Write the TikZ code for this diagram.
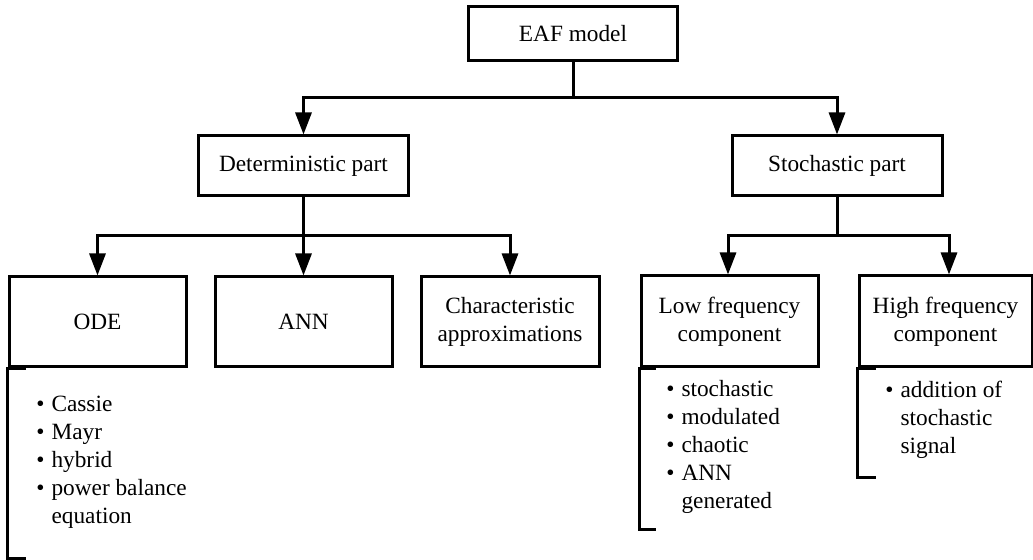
\documentclass[tikz,border=0pt]{standalone}
\usepackage{fontspec}
\setmainfont{Liberation Serif}
\usetikzlibrary{arrows.meta}
\begin{document}
\begin{tikzpicture}[x=0.5pt,y=-0.5pt,
 box/.style={draw,line width=1.5pt,inner sep=0pt,align=center,font=\fontsize{11.65}{14}\selectfont},
 conn/.style={line width=1.5pt,-{Triangle[width=8pt,length=11pt]}},
 plainline/.style={line width=1.5pt},
 brk/.style={line width=1.5pt},
 lst/.style={anchor=north west,inner sep=0pt,font=\fontsize{11.65}{14}\selectfont}]
\useasboundingbox (0,0) rectangle (1033,560);
% boxes
\node[box,minimum width=104.5pt,minimum height=27pt] (eaf) at (573,34) {EAF model};
\node[box,minimum width=105pt,minimum height=30pt] (det) at (303.5,166) {Deterministic part};
\node[box,minimum width=105pt,minimum height=30pt] (sto) at (837,166) {Stochastic part};
\node[box,minimum width=88.5pt,minimum height=45pt] (ode) at (97.5,322) {ODE};
\node[box,minimum width=88.5pt,minimum height=45pt] (ann) at (303.5,322) {ANN};
\node[box,minimum width=89pt,minimum height=45pt] (cha) at (510,322) {Characteristic\\approximations};
\node[box,minimum width=88.5pt,minimum height=45.5pt] (low) at (729.5,321.5) {Low frequency\\component};
\node[box,minimum width=86.5pt,minimum height=45.5pt] (high) at (945.5,321.5) {High frequency\\component};
% junction levels
\path (0,98) coordinate (h1) (0,236) coordinate (h2);
\coordinate (j1) at (eaf.south |- h1);
\coordinate (j2) at (det.south |- h2);
\coordinate (j3) at (sto.south |- h2);
% connectors
\draw[plainline] (eaf.south) -- (j1);
\draw[conn] (j1) -| (det.north);
\draw[conn] (j1) -| (sto.north);
\draw[plainline] (det.south) -- (j2);
\draw[conn] (j2) -| (ode.north);
\draw[conn] (j2) -| (ann.north);
\draw[conn] (j2) -| (cha.north);
\draw[plainline] (sto.south) -- (j3);
\draw[conn] (j3) -| ([xshift=-0.75pt]low.north);
\draw[conn] (j3) -| ([xshift=1.75pt]high.north);
% brackets
\draw[brk] ([xshift=9pt]ode.south west) -- (ode.south west) -- ++(0,190) -- ++(18,0);
\draw[brk] ([xshift=8pt]low.south west) -- (low.south west) -- ++(0,161) -- ++(16,0);
\draw[brk] ([xshift=9pt]high.south west) -- (high.south west) -- ++(0,109) -- ++(18,0);
% lists
\node[lst] (odel) at (36,392) {\begin{tabular}{@{}l@{\hspace{3.5pt}}l@{}}\textbullet&Cassie\\ \textbullet&Mayr\\ \textbullet&hybrid\\ \textbullet&power balance\\ &equation\end{tabular}};
\node[lst] (lowl) at (666,377) {\begin{tabular}{@{}l@{\hspace{3.5pt}}l@{}}\textbullet&stochastic\\ \textbullet&modulated\\ \textbullet&chaotic\\ \textbullet&ANN\\ &generated\end{tabular}};
\node[lst] (highl) at (885,378) {\begin{tabular}{@{}l@{\hspace{3.5pt}}l@{}}\textbullet&addition of\\ &stochastic\\ &signal\end{tabular}};
\end{tikzpicture}
\end{document}
